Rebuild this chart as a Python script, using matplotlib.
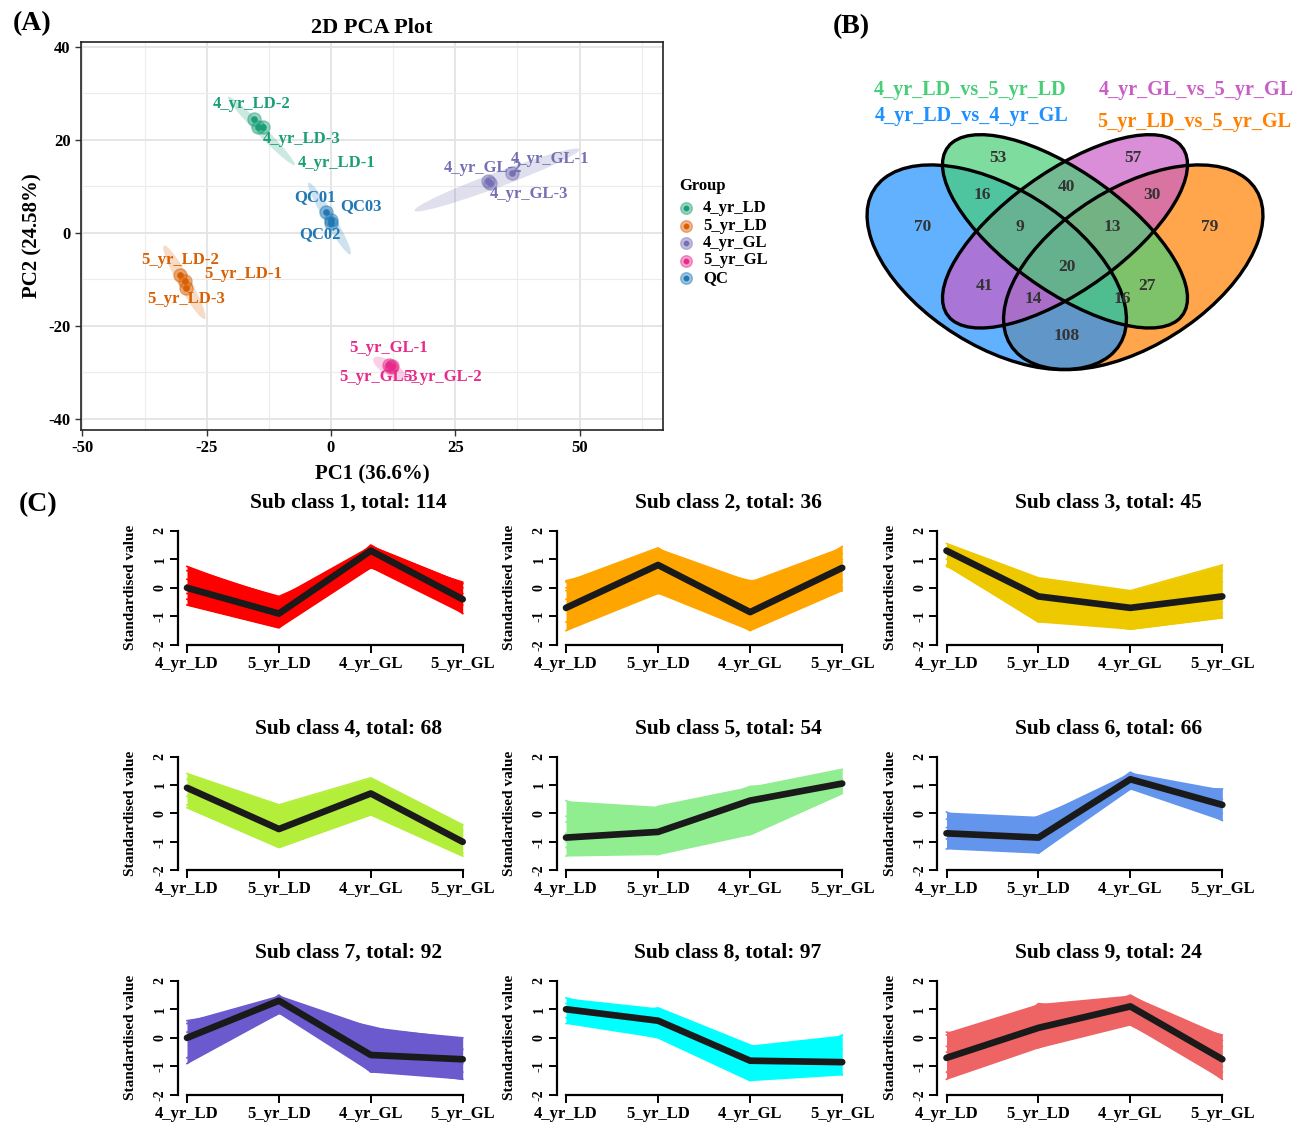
import numpy as np
import matplotlib.pyplot as plt
from matplotlib.patches import Ellipse

plt.rcParams['font.family'] = ['Liberation Serif', 'DejaVu Serif']
plt.rcParams['font.weight'] = 'bold'
plt.rcParams['axes.labelweight'] = 'bold'
plt.rcParams['axes.unicode_minus'] = False

W, H = 1306, 1123

# ---------------------------------------------------------------- (A) PCA data
groups = ['4_yr_LD', '5_yr_LD', '4_yr_GL', '5_yr_GL', 'QC']
group_colors = ['#1B9E77', '#D95F02', '#7570B3', '#E7298A', '#1F78B4']
sample_names = [['4_yr_LD-1', '4_yr_LD-2', '4_yr_LD-3'],
                ['5_yr_LD-1', '5_yr_LD-2', '5_yr_LD-3'],
                ['4_yr_GL-1', '4_yr_GL-2', '4_yr_GL-3'],
                ['5_yr_GL-1', '5_yr_GL-2', '5_yr_GL-3'],
                ['QC01', 'QC02', 'QC03']]
pc1 = [[-13.6, -15.5, -14.7],
       [-29.3, -30.3, -29.1],
       [36.4, 31.9, 31.6],
       [11.6, 12.3, 12.0],
       [-1.1, 0.0, 0.1]]
pc2 = [[22.8, 24.6, 22.8],
       [-10.4, -9.1, -11.8],
       [12.8, 10.8, 11.1],
       [-28.3, -28.7, -28.9],
       [4.6, 2.2, 2.7]]
# text positions of the repelled sample labels
label_x = [[1.1, -15.9, -6.0], [-17.7, -30.4, -29.1], [44.1, 30.6, 39.9],
           [11.5, 22.4, 9.6], [-3.3, -2.2, 6.0]]
label_y = [[15.1, 27.7, 20.3], [-8.9, -5.8, -14.1], [15.8, 14.0, 8.3],
           [-24.7, -31.0, -31.0], [7.8, -0.2, 5.8]]
# confidence ellipses: ends of the major axis and half width
ell_end1 = [(-20.7, 29.3), (-33.6, -2.7), (16.8, 4.8), (8.6, -26.9), (-4.5, 10.8)]
ell_end2 = [(-7.3, 14.6), (-25.4, -18.5), (50.0, 18.0), (15.1, -31.5), (3.9, -4.6)]
ell_half = [1.0, 1.3, 1.6, 1.5, 1.1]

# ---------------------------------------------------------------- (B) Venn data
venn_sets = ['4_yr_LD_vs_4_yr_GL', '4_yr_LD_vs_5_yr_LD',
             '4_yr_GL_vs_5_yr_GL', '5_yr_LD_vs_5_yr_GL']
venn_colors = ['#1E90FF', '#48CE77', '#C95EC7', '#FF8000']
venn_regions = ['A', 'B', 'C', 'D', 'AB', 'BC', 'CD', 'ABC', 'BCD',
                'ABCD', 'AC', 'BD', 'ACD', 'ABD', 'AD']
venn_counts = [70, 53, 57, 79, 16, 40, 30, 9, 13, 20, 41, 27, 14, 16, 108]
venn_pos = [(0.186, 0.582), (0.353, 0.774), (0.649, 0.774), (0.819, 0.582),
            (0.318, 0.671), (0.504, 0.694), (0.691, 0.671), (0.401, 0.582),
            (0.603, 0.582), (0.504, 0.471), (0.324, 0.418), (0.680, 0.418),
            (0.430, 0.382), (0.627, 0.382), (0.504, 0.279)]

# ---------------------------------------------------------------- (C) profiles
stages = ['4_yr_LD', '5_yr_LD', '4_yr_GL', '5_yr_GL']
totals = [114, 36, 45, 68, 54, 66, 92, 97, 24]
sub_colors = ['#FF0000', '#FFA500', '#EEC900', '#B3EE3A', '#90EE90',
              '#6495ED', '#6A5ACD', '#00FFFF', '#EE6363']
means = [[0.0, -0.9, 1.3, -0.4],
         [-0.7, 0.8, -0.85, 0.7],
         [1.3, -0.3, -0.7, -0.3],
         [0.9, -0.55, 0.7, -1.0],
         [-0.85, -0.65, 0.45, 1.05],
         [-0.7, -0.85, 1.2, 0.3],
         [0.0, 1.3, -0.6, -0.75],
         [1.0, 0.6, -0.8, -0.85],
         [-0.7, 0.35, 1.1, -0.75]]
members = [
    [[0.75, -0.45, 1.2, 0.2], [0.6, -0.3, 1.1, 0.0], [-0.6, -1.4, 1.5, -0.4],
     [-0.4, -1.3, 1.4, -0.9], [0.3, -1.0, 0.7, -0.2], [-0.2, -0.5, 0.85, -0.6],
     [0.1, -0.8, 1.45, 0.15]],
    [[0.25, 1.0, 0.25, 0.3], [0.2, 1.4, -0.6, 1.45], [-1.5, 0.5, -1.5, 1.2],
     [-0.1, -0.2, -0.2, 0.2], [-1.2, 1.1, -1.3, 0.0], [-0.4, -0.1, -0.5, -0.1],
     [-0.8, 1.3, -1.0, 1.0], [0.0, 0.3, 0.0, 0.9]],
    [[1.55, 0.35, -0.1, 0.8], [0.8, -1.2, -0.6, -0.9], [1.0, -0.9, -1.45, -1.05],
     [1.4, 0.0, -0.3, 0.6], [0.75, -0.5, -1.0, 0.2], [1.3, -0.7, -0.4, -0.5]],
    [[1.4, 0.3, 1.25, -0.4], [0.2, -1.2, -0.05, -1.5], [0.3, 0.2, 0.3, -1.0],
     [1.2, -1.0, 1.1, -1.4], [0.6, -0.2, 0.1, -0.6]],
    [[0.45, -0.9, -0.1, 0.9], [-0.1, -1.2, -0.5, 1.0], [-1.5, 0.25, 0.9, 1.55],
     [-1.0, -1.45, 0.3, 1.2], [-0.3, 0.2, -0.75, 0.7], [-1.2, -0.3, 0.95, 1.1],
     [-0.7, -1.0, 0.6, 0.8]],
    [[0.05, -1.4, 1.0, 0.85], [-0.2, -0.9, 1.45, -0.25], [-1.25, -0.1, 1.2, 0.5],
     [-0.9, -0.4, 0.85, 0.85], [-0.5, -1.2, 1.3, 0.0]],
    [[0.6, 1.1, 0.4, -0.4], [-0.9, 1.5, -1.2, -0.9], [-0.7, 0.85, 0.3, 0.0],
     [0.5, 1.4, -1.0, -1.45], [0.2, 0.9, -0.3, -1.2]],
    [[1.4, 0.6, -0.8, -0.9], [0.5, 1.05, -0.25, -1.3], [0.7, 0.0, -1.5, 0.1],
     [1.2, 0.4, -0.5, -0.4]],
    [[0.2, -0.35, 0.9, 0.1], [-1.45, 1.2, 0.8, -1.45], [0.1, 0.2, 1.5, -0.3],
     [-1.2, 0.9, 0.45, -1.2], [-0.5, 1.0, 1.4, -1.0], [-0.3, -0.2, 1.1, -0.1]],
]


def px_box(l, t, r, b):
    return [l / W, 1 - b / H, (r - l) / W, (b - t) / H]


fig = plt.figure(figsize=(W / 100, H / 100), dpi=100)

# ================================================================= (A) PCA
ax = fig.add_axes(px_box(81, 41.6, 663, 429.7))
ax.set_xlim(-50.3, 66.8)
ax.set_ylim(-42.3, 41.15)
ax.set_xticks([-50, -25, 0, 25, 50])
ax.set_yticks([-40, -20, 0, 20, 40])
ax.set_xticks([-37.5, -12.5, 12.5, 37.5, 62.5], minor=True)
ax.set_yticks([-30, -10, 10, 30], minor=True)
ax.grid(which='major', color='#E3E3E3', lw=1.3)
ax.grid(which='minor', color='#ECECEC', lw=0.8)
ax.set_axisbelow(True)
ax.tick_params(which='minor', length=0)
ax.tick_params(which='major', length=4, width=1, color='#333333', labelsize=12)
for s in ax.spines.values():
    s.set_linewidth(1.2)
    s.set_color('#222222')

for i, g in enumerate(groups):
    col = group_colors[i]
    (x0, y0), (x1, y1) = ell_end1[i], ell_end2[i]
    length = np.hypot(x1 - x0, y1 - y0)
    ang = np.degrees(np.arctan2(y1 - y0, x1 - x0))
    ax.add_patch(Ellipse(((x0 + x1) / 2, (y0 + y1) / 2), length, 2 * ell_half[i],
                         angle=ang, facecolor=col, alpha=0.22, lw=0))
    ax.scatter(pc1[i], pc2[i], s=90, color=col, alpha=0.45, edgecolor=col, lw=1)
    ax.scatter(pc1[i], pc2[i], s=14, color=col)
    for j, name in enumerate(sample_names[i]):
        ax.text(label_x[i][j], label_y[i][j], name, color=col, fontsize=12,
                ha='center', va='center')

ax.set_title('2D PCA Plot', fontsize=16, fontweight='bold', pad=6)
ax.set_xlabel('PC1 (36.6%)', fontsize=15, labelpad=6)
ax.set_ylabel('PC2 (24.58%)', fontsize=15, labelpad=4)

# ================================================================= (B) Venn
vax = fig.add_axes(px_box(837.5, 59, 1292.5, 436))
vax.set_xlim(0, 1)
vax.set_ylim(0, 1.05)
vax.axis('off')
venn_geom = [((0.35, 0.47), 0.35, 0.20, -45),
             ((0.50, 0.57), 0.35, 0.15, -45),
             ((0.50, 0.57), 0.35, 0.15, 45),
             ((0.65, 0.47), 0.35, 0.20, 45)]
for k in [3, 0, 2, 1]:
    c, a, b, ang = venn_geom[k]
    vax.add_patch(Ellipse(c, 2 * a, 2 * b, angle=ang, facecolor=venn_colors[k],
                          alpha=0.7, lw=0))
for c, a, b, ang in venn_geom:
    vax.add_patch(Ellipse(c, 2 * a, 2 * b, angle=ang, facecolor='none',
                          edgecolor='black', lw=2.4))
for n, (x, y) in zip(venn_counts, venn_pos):
    vax.text(x, y, str(n), ha='center', va='center', fontsize=12.5, color='#333333')

# ================================================================= (C) profiles
col_x1 = [187, 566, 946.5]
col_x4 = [462.7, 842.2, 1222.3]
row_y2 = [530.7, 756.5, 980.7]
row_ym2 = [645, 870.3, 1095]
xpos = np.arange(1, 5)

for k in range(9):
    r, c = divmod(k, 3)
    u = (col_x4[c] - col_x1[c]) / 3
    sax = fig.add_axes(px_box(col_x1[c] - 0.1 * u, row_y2[r],
                              col_x4[c] + 0.1 * u, row_ym2[r]))
    prof = np.array(members[k])
    sax.fill_between(xpos, prof.min(axis=0), prof.max(axis=0),
                     color=sub_colors[k], lw=0)
    for p in prof:
        sax.plot(xpos, p, color=sub_colors[k], lw=1.2)
    sax.plot(xpos, means[k], color='#1A1A1A', lw=4.8, solid_capstyle='round')
    sax.set_xlim(0.9, 4.1)
    sax.set_ylim(-2, 2)
    sax.spines[['top', 'right']].set_visible(False)
    sax.spines['left'].set_bounds(-2, 2)
    sax.spines['bottom'].set_bounds(1, 4)
    for s in ('left', 'bottom'):
        sax.spines[s].set_linewidth(1.6)
    sax.set_xticks(xpos)
    sax.set_xticklabels(stages, fontsize=12)
    sax.set_yticks([-2, -1, 0, 1, 2])
    sax.set_yticklabels(['-2', '-1', '0', '1', '2'], rotation=90, va='center',
                        fontsize=10)
    sax.tick_params(direction='out', length=6, width=1.4, pad=2)
    sax.set_ylabel('Standardised value', fontsize=11, labelpad=12)
    sax.text(2.76, 2.98, 'Sub class %d, total: %d' % (k + 1, totals[k]),
             ha='center', va='center', fontsize=15.5)

# ================================================================= overlay texts
fx = fig.add_axes([0, 0, 1, 1])
fx.set_xlim(0, W)
fx.set_ylim(H, 0)
fx.axis('off')
fx.text(32, 24, '(A)', fontsize=20, ha='center', va='center')
fx.text(851, 27, '(B)', fontsize=20, ha='center', va='center')
fx.text(38, 505, '(C)', fontsize=20, ha='center', va='center')

# PCA legend
fx.text(679, 186, 'Group', fontsize=12, va='center')
for i, g in enumerate(groups):
    yy = 208 + i * 17.5
    fx.scatter([686], [yy], s=70, color=group_colors[i], alpha=0.45)
    fx.scatter([686], [yy], s=10, color=group_colors[i])
    fx.text(703, yy, g, fontsize=12, va='center')

# Venn set names
venn_label_xy = [(972, 116), (970, 90), (1196, 90), (1194, 122)]
for k, name in enumerate(venn_sets):
    fx.text(venn_label_xy[k][0], venn_label_xy[k][1], name, color=venn_colors[k],
            fontsize=14.5, ha='center', va='center')

fig.savefig('out.png', dpi=100)
